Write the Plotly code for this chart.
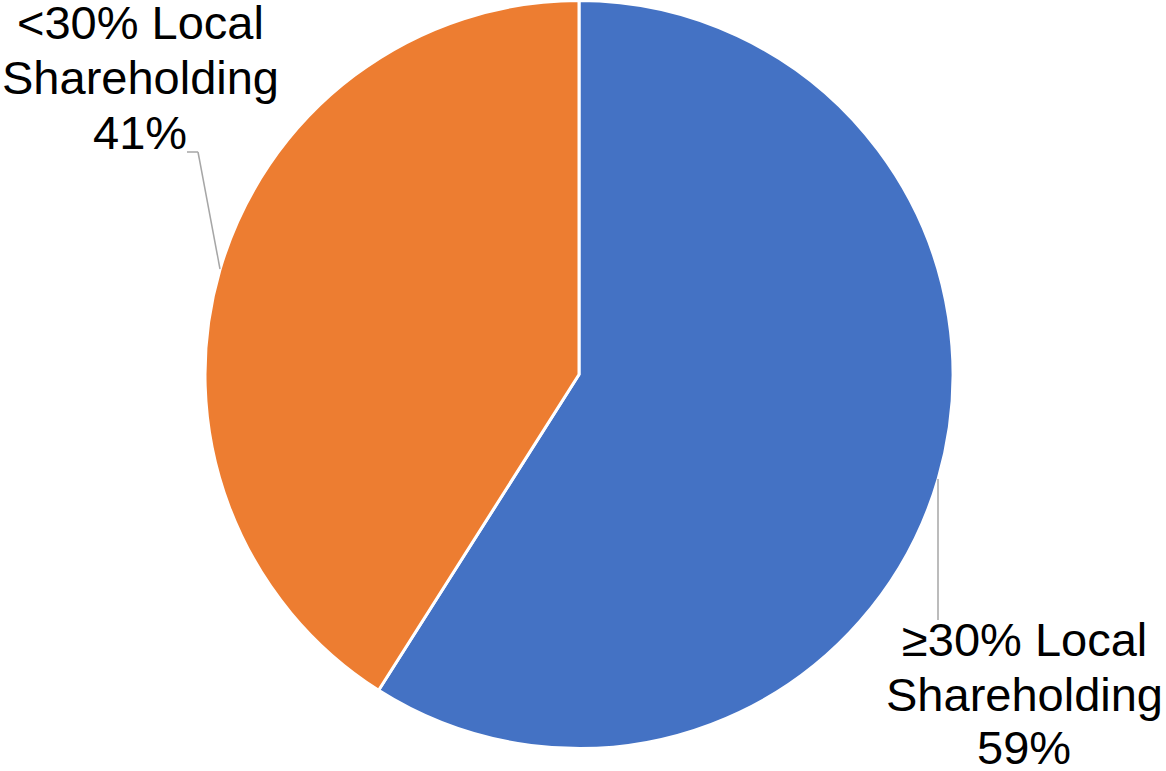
import plotly.graph_objects as go

labels = ["≥30% Local Shareholding", "<30% Local Shareholding"]
values = [59, 41]
colors = ["#4472C4", "#ED7D31"]

W, H = 1166, 771

def px(x):
    return x / W

def py(y):
    return 1 - y / H

fig = go.Figure(go.Pie(
    labels=labels,
    values=values,
    sort=False,
    direction="clockwise",
    rotation=0,
    marker=dict(colors=colors, line=dict(color="white", width=3)),
    textinfo="none",
    hoverinfo="label+percent",
    showlegend=False,
    domain=dict(x=[px(205), px(953)], y=[py(749), py(0)]),
))

FS = 47
FONT = "Liberation Sans, Arial, sans-serif"

def label_lines(name, pct):
    parts = name.split(" ")
    return [f"{parts[0]} {parts[1]}", parts[2], f"{pct}%"]

# label placement (center x, baselines of each line) in pixels
placements = {
    0: (1024, [655, 710, 763]),
    1: (140, [38, 93, 148]),
}

annotations = []
for i, (name, v) in enumerate(zip(labels, values)):
    cx, baselines = placements[i]
    for line, base in zip(label_lines(name, v), baselines):
        annotations.append(dict(
            x=px(cx), y=py(base - 0.33 * FS), xref="paper", yref="paper",
            text=line, showarrow=False, xanchor="center", yanchor="middle",
            font=dict(family=FONT, size=FS, color="black"),
        ))

leader = dict(color="#A6A6A6", width=1.5)
shapes = [
    dict(type="line", xref="paper", yref="paper", x0=px(187), y0=py(152), x1=px(198), y1=py(152), line=leader),
    dict(type="line", xref="paper", yref="paper", x0=px(198), y0=py(152), x1=px(220), y1=py(269), line=leader),
    dict(type="line", xref="paper", yref="paper", x0=px(938), y0=py(479), x1=px(938), y1=py(620), line=leader),
]

fig.update_layout(
    width=W, height=H,
    margin=dict(l=0, r=0, t=0, b=0),
    paper_bgcolor="white",
    plot_bgcolor="white",
    annotations=annotations,
    shapes=shapes,
)

fig.write_html(
    "out.html",
    config={"displayModeBar": False},
    post_script="document.body.style.margin='0';document.body.style.overflow='hidden';",
)
